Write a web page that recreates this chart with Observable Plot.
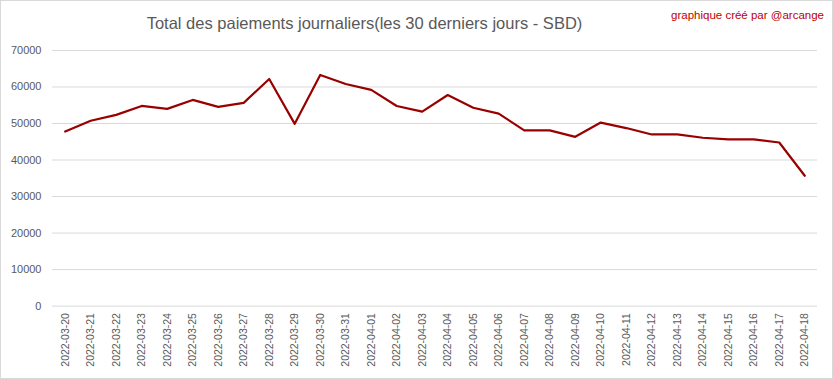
<!DOCTYPE html>
<html>
<head>
<meta charset="utf-8">
<script src="https://cdn.jsdelivr.net/npm/d3@7"></script>
<script src="https://cdn.jsdelivr.net/npm/@observablehq/plot@0.6"></script>
<style>
  html, body { margin: 0; padding: 0; background: #fff; }
  #wrap { position: relative; width: 833px; height: 379px; box-sizing: border-box; border: 1px solid #d9d9d9; overflow: hidden; font-family: "Liberation Sans", Arial, sans-serif; }
  #title { position: absolute; left: 0; width: 727px; top: 13px; text-align: center; font-size: 16.5px; color: #595959; white-space: nowrap; }
  #credit { position: absolute; right: 8px; top: 8px; font-size: 11.5px; color: #c00000; white-space: nowrap; }
  #chart { position: absolute; left: -1px; top: -1px; }
</style>
</head>
<body>
<div id="wrap">
  <div id="title">Total des paiements journaliers(les 30 derniers jours - SBD)</div>
  <div id="credit">graphique créé par @arcange</div>
  <div id="chart"></div>
</div>
<script>
const dates = [
  "2022-03-20","2022-03-21","2022-03-22","2022-03-23","2022-03-24","2022-03-25",
  "2022-03-26","2022-03-27","2022-03-28","2022-03-29","2022-03-30","2022-03-31",
  "2022-04-01","2022-04-02","2022-04-03","2022-04-04","2022-04-05","2022-04-06",
  "2022-04-07","2022-04-08","2022-04-09","2022-04-10","2022-04-11","2022-04-12",
  "2022-04-13","2022-04-14","2022-04-15","2022-04-16","2022-04-17","2022-04-18"
];
const payments = [
  47800, 50750, 52350, 54800, 54000, 56450,
  54550, 55650, 62200, 49900, 63300, 60800,
  59200, 54800, 53250, 57800, 54300, 52700,
  48100, 48100, 46350, 50250, 48750, 47000,
  47000, 46100, 45650, 45650, 44800, 35700
];
const yTicks = [0, 10000, 20000, 30000, 40000, 50000, 60000, 70000];

const data = dates.map((d, i) => ({date: d, value: payments[i]}));

const chart = Plot.plot({
  width: 833,
  height: 379,
  marginLeft: 52,
  marginRight: 15,
  marginTop: 50,
  marginBottom: 73,
  style: {fontFamily: "'Liberation Sans', Arial, sans-serif", fontSize: "10.5px", color: "#595959", background: "transparent"},
  x: {type: "point", domain: dates, padding: 0.5, round: false, label: null},
  y: {domain: [0, 70000], label: null},
  marks: [
    Plot.gridY(yTicks, {stroke: "#d9d9d9", strokeOpacity: 1}),
    Plot.axisY(yTicks, {tickSize: 0, tickPadding: 11, tickFormat: d => String(d), label: null, fontSize: 11}),
    Plot.axisX({tickSize: 0, tickPadding: 7, tickRotate: -90, label: null, fontSize: 10.5}),
    Plot.lineY(data, {x: "date", y: "value", stroke: "#990000", strokeWidth: 2.2})
  ]
});
document.getElementById("chart").appendChild(chart);
</script>
</body>
</html>
